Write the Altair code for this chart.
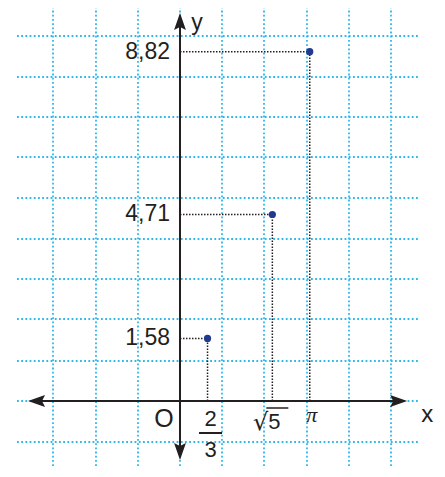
import altair as alt
import pandas as pd

# ---- data -----------------------------------------------------------
pt_x = [0.6667, 2.2361, 3.1416]          # 2/3, sqrt(5), pi
pt_y = [1.58, 4.71, 8.82]
y_labels = ["1,58", "4,71", "8,82"]
frac_num, frac_den = "2", "3"
root_sign, root_arg = "√", "5"
pi_label = "π"

grid_x = [-3.075, -2.034, -1.017, 0.0, 1.017, 2.034, 3.075, 4.092, 5.109]
grid_y = [-1.035, 0.0, 1.010, 2.071, 3.081, 4.091, 5.126, 6.162, 7.172, 8.182, 9.217]
grid_x_span = [-3.947, 5.811]

x_dom = [-4.1646, 6.2228]
y_dom = [-1.6414, 9.9242]

x_axis_line = [-3.35, 5.2]
y_axis_line = [-1.15, 9.5]
x_tips = [-3.68, 5.50]
y_tips = [-1.49, 9.80]

INK = "#231f20"
GRID = "#2db8ea"
DOT = "#1f3a8f"

xs = alt.Scale(domain=x_dom, nice=False, zero=False)
ys = alt.Scale(domain=y_dom, nice=False, zero=False)

def X(f="x"):
    return alt.X(f"{f}:Q", scale=xs, axis=None)

def Y(f="y"):
    return alt.Y(f"{f}:Q", scale=ys, axis=None)

# grid
hgrid = pd.DataFrame({"y": grid_y, "x": grid_x_span[0], "x2": grid_x_span[1]})
vgrid = pd.DataFrame({"x": grid_x, "y": y_dom[0], "y2": y_dom[1]})

h_grid = alt.Chart(hgrid).mark_rule(color=GRID, strokeWidth=1.8, strokeDash=[1.8, 2.4]).encode(
    x=X(), x2="x2:Q", y=Y())
v_grid = alt.Chart(vgrid).mark_rule(color=GRID, strokeWidth=1.8, strokeDash=[1.8, 2.4]).encode(
    x=X(), y=Y(), y2="y2:Q")

# guides
pts = pd.DataFrame({"x": pt_x, "y": pt_y, "zero": 0.0, "lab": y_labels})
h_guide = alt.Chart(pts).mark_rule(color=INK, strokeWidth=1.5, strokeDash=[1.5, 1.5]).encode(
    x=alt.X("zero:Q", scale=xs, axis=None), x2="x:Q", y=Y())
v_guide = alt.Chart(pts).mark_rule(color=INK, strokeWidth=1.5, strokeDash=[1.5, 1.5]).encode(
    x=X(), y=alt.Y("zero:Q", scale=ys, axis=None), y2="y:Q")

# axes
xax = pd.DataFrame({"x": [x_axis_line[0]], "x2": [x_axis_line[1]], "y": [0.0]})
yax = pd.DataFrame({"y": [y_axis_line[0]], "y2": [y_axis_line[1]], "x": [0.0]})
x_line = alt.Chart(xax).mark_rule(color=INK, strokeWidth=2).encode(x=X(), x2="x2:Q", y=Y())
y_line = alt.Chart(yax).mark_rule(color=INK, strokeWidth=2).encode(x=X(), y=Y(), y2="y2:Q")

arrow_path = "M0,0L0.7,2L0,1.65L-0.7,2Z"
tips = pd.DataFrame({
    "x": [x_tips[0], x_tips[1], 0.0, 0.0],
    "y": [0.0, 0.0, y_tips[0], y_tips[1]],
    "ang": [270, 90, 180, 0],
})
arrows = alt.Chart(tips).mark_point(shape=arrow_path, filled=True, color=INK, size=289,
                                    opacity=1, strokeWidth=0).encode(
    x=X(), y=Y(), angle=alt.Angle("ang:Q", scale=None))

# points
dots = alt.Chart(pts).mark_circle(color=DOT, size=52, opacity=1).encode(x=X(), y=Y())

# y value labels
ylab = alt.Chart(pts).mark_text(font="Liberation Sans", fontSize=23, color=INK, align="right",
                                baseline="middle", dx=-10).encode(
    x=alt.X("zero:Q", scale=xs, axis=None), y=Y(), text="lab:N")

def one(xv, yv, t):
    return pd.DataFrame({"x": [xv], "y": [yv], "t": [t]})

def txt(df, **kw):
    base = dict(color=INK, align="center", baseline="alphabetic")
    base.update(kw)
    return alt.Chart(df).mark_text(**base).encode(x=X(), y=Y(), text="t:N")

# fraction 2/3
num_t = txt(one(pt_x[0], 0.0, frac_num), font="Liberation Sans", fontSize=22, dx=3, dy=25)
den_t = txt(one(pt_x[0], 0.0, frac_den), font="Liberation Sans", fontSize=22, dx=3, dy=56)
bar = alt.Chart(one(pt_x[0], 0.0, "")).mark_tick(orient="horizontal", color=INK, size=23,
                                                 thickness=2, opacity=1, xOffset=3, yOffset=32).encode(
    x=X(), y=Y())

# sqrt(5)
rs_t = txt(one(pt_x[1], 0.0, root_sign), font="DejaVu Sans", fontSize=24, align="right",
           dx=-4, dy=29)
ra_t = txt(one(pt_x[1], 0.0, root_arg), font="Liberation Sans", fontSize=22, align="left",
           dx=-4, dy=28)
vinc = alt.Chart(one(pt_x[1], 0.0, "")).mark_tick(orient="horizontal", color=INK, size=22,
                                                  thickness=1.5, opacity=1, xOffset=5, yOffset=7).encode(
    x=X(), y=Y())

pi_t = txt(one(pt_x[2], 0.0, pi_label), font="Liberation Serif", fontStyle="italic", fontSize=22,
           dx=2, dy=21)

o_t = txt(one(0.0, 0.0, "O"), font="Liberation Sans", fontSize=25, dx=-16, dy=26)
xn_t = txt(one(x_tips[1], 0.0, "x"), font="Liberation Sans", fontSize=24, dx=20, dy=21)
yn_t = txt(one(0.0, y_tips[1], "y"), font="Liberation Sans", fontSize=23, dx=17, dy=17)

chart = alt.layer(
    h_grid, v_grid, h_guide, v_guide, x_line, y_line, arrows, dots,
    ylab, num_t, den_t, bar, rs_t, ra_t, vinc, pi_t, o_t, xn_t, yn_t,
).properties(
    width=429, height=458, padding=0,
    autosize=alt.AutoSizeParams(type="none"),
    background="white",
).configure_view(strokeWidth=0)

chart.save("out.html", embed_options={"renderer": "svg", "actions": False})
